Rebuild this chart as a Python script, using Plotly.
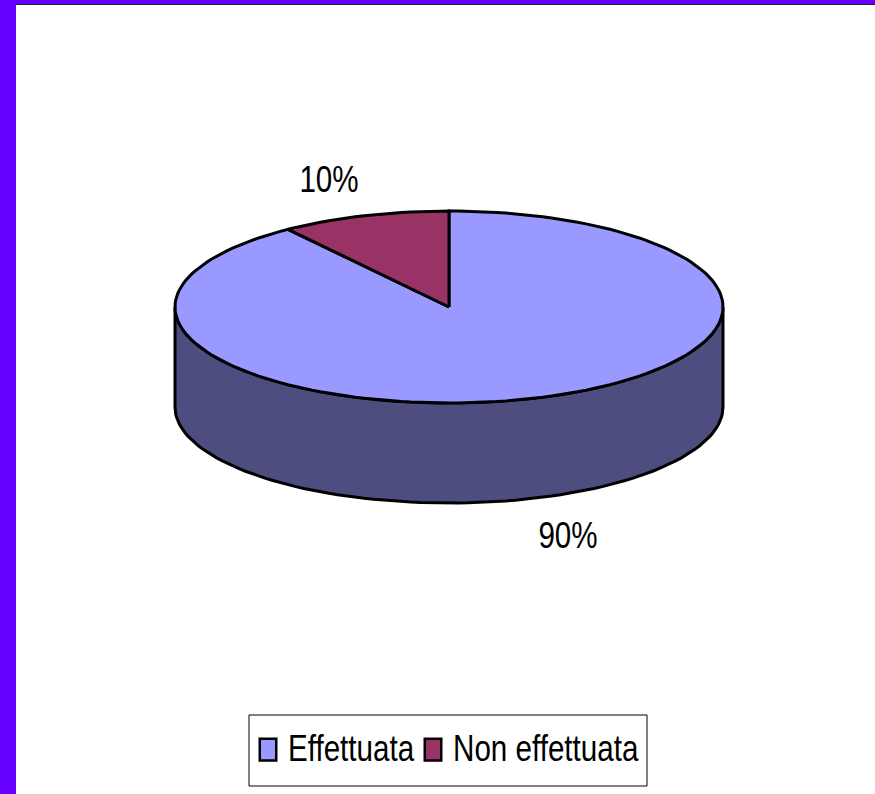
import numpy as np
import plotly.graph_objects as go

categories = ["Effettuata", "Non effettuata"]
values = [90, 10]
colors = ["#9999FF", "#993366"]
side_color = "#4D4D80"
label_xy = [(568, 535), (329, 179)]

W, H = 875, 794
CX, CY, RX, RY, DEPTH = 449, 307, 274, 96, 100
LW = 3
FONT = "Liberation Sans, Arial, sans-serif"
FONT_SIZE = 37


def rim(start, end, dy=0.0):
    n = max(2, int(abs(end - start) / 2) + 1)
    t = np.radians(np.linspace(start, end, n))
    return CX + RX * np.sin(t), CY + dy - RY * np.cos(t)


total = sum(values)
fig = go.Figure()

tx, ty = rim(90, 270)
bx, by = rim(270, 90, DEPTH)
fig.add_trace(go.Scatter(
    x=np.r_[tx, bx, tx[0]], y=np.r_[ty, by, ty[0]], mode="lines", fill="toself",
    fillcolor=side_color, line=dict(color="black", width=LW), showlegend=False, hoverinfo="skip"))

angle = 0.0
for name, v, c in zip(categories, values, colors):
    span = 360.0 * v / total
    x, y = rim(angle, angle + span)
    fig.add_trace(go.Scatter(
        x=np.r_[CX, x, CX], y=np.r_[CY, y, CY], mode="lines", fill="toself",
        fillcolor=c, line=dict(color="black", width=LW), showlegend=False, name=name))
    angle += span

for name, c in zip(categories, colors):
    fig.add_trace(go.Scatter(
        x=[None], y=[None], mode="markers", name=name,
        marker=dict(symbol="square", size=15, color=c, line=dict(color="black", width=2.5))))

for v, (lx, ly) in zip(values, label_xy):
    fig.add_annotation(x=lx, y=ly, text=f"{v}%", showarrow=False,
                       font=dict(family=FONT, size=FONT_SIZE, color="black"))

fig.update_layout(
    width=W, height=H, autosize=False,
    margin=dict(l=0, r=0, t=0, b=0),
    paper_bgcolor="white", plot_bgcolor="white",
    xaxis=dict(range=[0, W], visible=False, fixedrange=True),
    yaxis=dict(range=[H, 0], visible=False, fixedrange=True),
    legend=dict(orientation="h", x=248 / W, y=1 - 750 / H, xanchor="left", yanchor="middle",
                bgcolor="rgba(0,0,0,0)", borderwidth=0,
                font=dict(family=FONT, size=FONT_SIZE, color="black"),
                itemwidth=30, entrywidth=120, entrywidthmode="pixels"),
    shapes=[
        dict(type="rect", x0=249, x1=647, y0=715, y1=786, fillcolor="white",
             line=dict(color="black", width=1), layer="below"),
        dict(type="rect", x0=0, x1=W, y0=0, y1=4, fillcolor="#6600FF", line_width=0, layer="above"),
        dict(type="rect", x0=0, x1=16, y0=0, y1=H, fillcolor="#6600FF", line_width=0, layer="above"),
        dict(type="line", x0=16, x1=W, y0=4.5, y1=4.5, line=dict(color="#222222", width=1), layer="above"),
    ],
)
post = """
document.body.style.margin='0';document.body.style.overflow='hidden';
function narrow(){
 document.querySelectorAll('.legend [clip-path], .legend .scrollbox').forEach(function(e){e.removeAttribute('clip-path');e.style.clipPath='none';});
 document.querySelectorAll('.annotation-text,.legendtext').forEach(function(t){
  if(t.dataset.narrow)return;var n=t.getComputedTextLength();if(!n)return;
  t.setAttribute('lengthAdjust','spacingAndGlyphs');t.setAttribute('textLength',n*0.8);t.dataset.narrow='1';
  if(t.classList.contains('legendtext')){t.setAttribute('y',parseFloat(t.getAttribute('y')||0)-3);}
 });
 document.querySelectorAll('.legendpoints path.scatterpts').forEach(function(p){
  if(p.dataset.tall)return;p.dataset.tall='1';
  p.setAttribute('transform',(p.getAttribute('transform')||'')+' scale(1.1,1.45)');
  p.style.vectorEffect='non-scaling-stroke';
 });
}
narrow();setTimeout(narrow,50);setTimeout(narrow,300);
"""
fig.write_html("out.html", config={"displayModeBar": False}, post_script=post)
